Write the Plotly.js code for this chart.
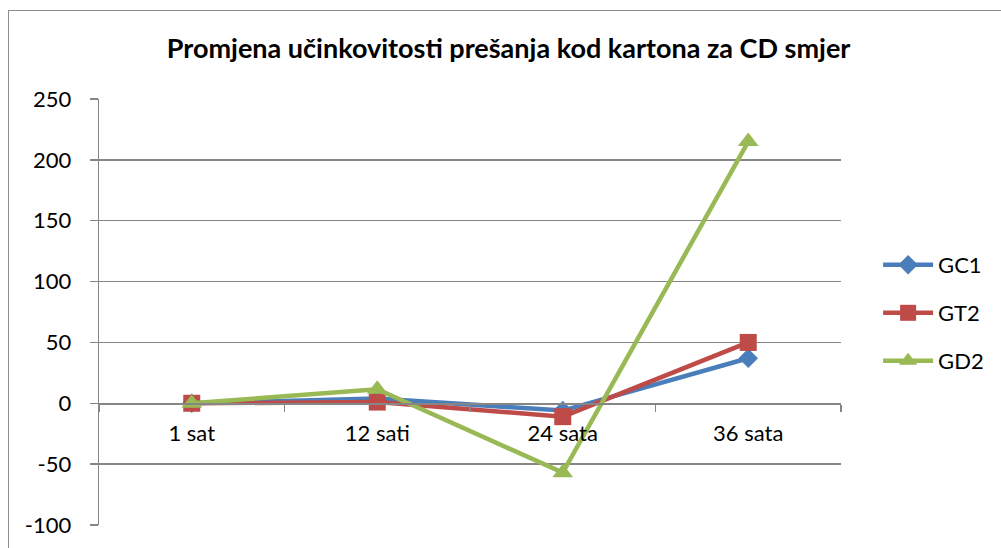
<!DOCTYPE html>
<html>
<head>
<meta charset="utf-8">
<script src="https://cdn.plot.ly/plotly-3.0.1.min.js"></script>
<style>
  html, body { margin: 0; padding: 0; background: #fff; overflow: hidden; }
  #chart { position: absolute; left: 0; top: 0; width: 1001px; height: 548px; }
  #frame { position: absolute; left: 8px; top: 10px; width: 1100px; height: 600px;
           border: 1.5px solid #8c8c8c; pointer-events: none; }
</style>
</head>
<body>
<div id="chart"></div>
<div id="frame"></div>
<script>
const categories = ["1 sat", "12 sati", "24 sata", "36 sata"];
const seriesNames = ["GC1", "GT2", "GD2"];
const gc1 = [0, 4, -6, 37];
const gt2 = [0, 1, -11, 50];
const gd2 = [0, 11.5, -57, 215];
const yTicks = [-100, -50, 0, 50, 100, 150, 200, 250];

const colors = ["#4A7EBB", "#BE4B48", "#98B954"];
const symbols = ["diamond", "square", "triangle-up"];
const sizes = [15, 17, 18];
const values = [gc1, gt2, gd2];
const legendIds = ["legend", "legend2", "legend3"];

const font = "Lato, 'Open Sans', sans-serif";
const yMin = -100, yMax = 250;

const traces = values.map((v, i) => ({
  type: "scatter",
  mode: "lines+markers",
  name: seriesNames[i],
  x: categories,
  y: v,
  line: { color: colors[i], width: 4.5 },
  marker: { color: colors[i], symbol: symbols[i], size: sizes[i] },
  legend: legendIds[i],
  cliponaxis: false
}));

const legendBase = {
  xanchor: "left", yanchor: "middle",
  font: { family: font, size: 22, color: "#000" },
  bgcolor: "rgba(0,0,0,0)",
  itemwidth: 50
};

const layout = {
  width: 1001, height: 548,
  margin: { l: 99, r: 158, t: 99, b: 23 },
  paper_bgcolor: "#fff",
  plot_bgcolor: "#fff",
  font: { family: font, size: 22, color: "#000" },
  title: {
    text: "<b>Promjena učinkovitosti prešanja kod kartona za CD smjer</b>",
    font: { family: font, size: 27, color: "#000" },
    x: 0.552, xref: "paper", xanchor: "center",
    y: 1 - 49 / 548, yref: "container", yanchor: "middle"
  },
  xaxis: {
    type: "category",
    range: [-0.5, 3.5],
    anchor: "free",
    position: (0 - yMin) / (yMax - yMin),
    showgrid: false,
    showline: true, linecolor: "#868686", linewidth: 1.3,
    ticks: "outside", ticklen: 7, tickcolor: "#868686", tickwidth: 1.3,
    tickson: "boundaries",
    ticklabelstandoff: 10,
    tickfont: { family: font, size: 22, color: "#000" },
    zeroline: false,
    fixedrange: true
  },
  yaxis: {
    range: [yMin, yMax],
    tickvals: yTicks,
    ticktext: yTicks.map(String),
    showgrid: true, gridcolor: "#868686", gridwidth: 1.3,
    showline: true, linecolor: "#868686", linewidth: 1.3,
    ticks: "outside", ticklen: 8, tickcolor: "#868686", tickwidth: 1.3,
    ticklabelstandoff: 14,
    tickfont: { family: font, size: 22, color: "#000" },
    zeroline: false,
    fixedrange: true
  },
  legend: Object.assign({}, legendBase, { x: 1.05, y: (525 - 265) / 426 }),
  legend2: Object.assign({}, legendBase, { x: 1.05, y: (525 - 313) / 426 }),
  legend3: Object.assign({}, legendBase, { x: 1.05, y: (525 - 361) / 426 }),
  showlegend: true
};

Plotly.newPlot("chart", traces, layout, { displayModeBar: false, staticPlot: true });
</script>
</body>
</html>
